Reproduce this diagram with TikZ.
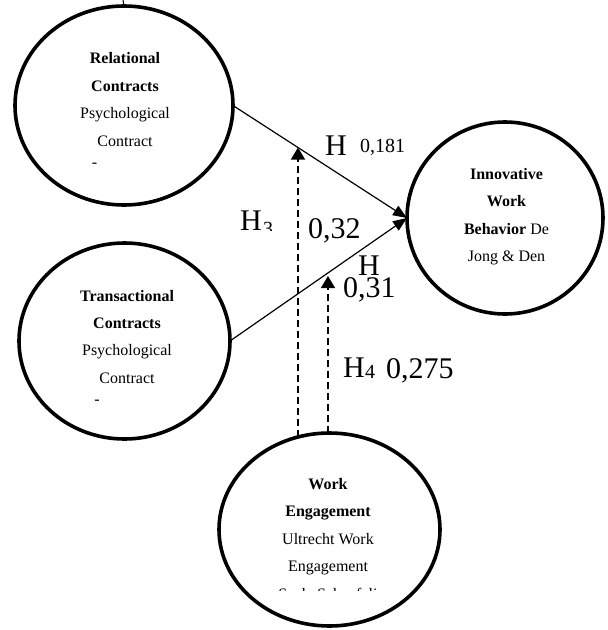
\documentclass[tikz,border=0pt]{standalone}
\usepackage{fontspec}
\setmainfont{Liberation Serif}
\newfontfamily\titlefont{Liberation Sans}
\usetikzlibrary{arrows.meta,shapes.geometric}
\begin{document}
\begin{tikzpicture}[x=1pt,y=-1pt,
  blob/.style={draw, ellipse, line width=3.6pt, inner sep=0pt, outer sep=0pt},
  intext/.style={align=center, inner sep=0pt, font=\fontsize{16}{27.4}\selectfont},
  biglbl/.style={inner sep=0pt, anchor=base west, font=\fontsize{30}{30}\selectfont},
  smalllbl/.style={inner sep=0pt, anchor=base west, font=\fontsize{20}{20}\selectfont},
  conn/.style={line width=1.2pt, -{Triangle[length=14pt,width=11pt]}},
  modline/.style={line width=1.5pt, dash pattern=on 7pt off 4pt, -{Triangle[length=12pt,width=14pt]}}
]
\clip (0,0) rectangle (608,630);
\fill[white] (0,0) rectangle (608,630);

% title (cut off at the top edge)
\node[anchor=base west, inner sep=0pt, text=black!60, font=\titlefont\fontsize{24}{24}\selectfont] (ttl) at (40,-1.5) {Research Structural Model};

% ellipses
\node[blob, minimum width=218pt, minimum height=199pt] (rel) at (124,105.5) {};
\node[blob, minimum width=211pt, minimum height=196pt] (tra) at (124.5,341) {};
\node[blob, minimum width=196pt, minimum height=192pt] (inn) at (505,218) {};
\node[blob, minimum width=221pt, minimum height=193pt] (wrk) at (329.5,529.5) {};

\coordinate (tk) at (123,0);
\draw[line width=1pt] (tk) -- (rel.north);

% texts in ellipses (base anchor = baseline of the last line)
\node[intext, anchor=base] (relT) at (125,146) {\textbf{Relational}\\\textbf{Contracts}\\Psychological\\Contract};
\node[inner sep=0pt, anchor=base, font=\fontsize{16}{16}\selectfont] (relD) at (94.5,167) {-};
\node[intext, anchor=base] (traT) at (127,383.3) {\textbf{Transactional}\\\textbf{Contracts}\\Psychological\\Contract};
\node[inner sep=0pt, anchor=base, font=\fontsize{16}{16}\selectfont] (traD) at (97,404) {-};
\node[intext, anchor=base] (innT) at (506.5,261.7) {\textbf{Innovative}\\\textbf{Work}\\\textbf{Behavior} De\\Jong \& Den};
\node[intext, anchor=base] (wrkT) at (328,571.7) {\textbf{Work}\\\textbf{Engagement}\\Ultrecht Work\\Engagement};
\begin{scope}
  \clip (200,570) rectangle (460,590);
  \node[intext, anchor=base] (wrkX) at (328,599) {Scale Schaufeli};
\end{scope}

% connectors
\draw[conn] (rel.east) -- (inn.west);
\draw[conn] (tra.east) -- (inn.west);
\coordinate (m1) at (298,147.5);
\coordinate (m2) at (328,276);
\draw[modline] (m1 |- wrk.108.6) -- (m1);
\draw[modline] (m2 |- wrk.north) -- (m2);

% labels
\node[biglbl] (h1) at (325,155) {H};
\node[smalllbl] (v1) at (360,152) {0,181};
\node[biglbl] (h3) at (240,230) {H};
\begin{scope}
  \clip (230,200) rectangle (290,230.5);
  \node[smalllbl] (h3s) at (263,235.5) {3};
\end{scope}
\node[biglbl] (v3) at (308,238) {0,32};
\node[biglbl] (h2) at (358,275) {H};
\node[biglbl] (v2) at (343,297) {0,31};
\node[biglbl] (h4) at (343,377) {H};
\begin{scope}
  \clip (355,350) rectangle (390,377.5);
  \node[smalllbl] (h4s) at (365,378.5) {4};
\end{scope}
\node[biglbl] (v4) at (386,378) {0,275};
\end{tikzpicture}
\end{document}
